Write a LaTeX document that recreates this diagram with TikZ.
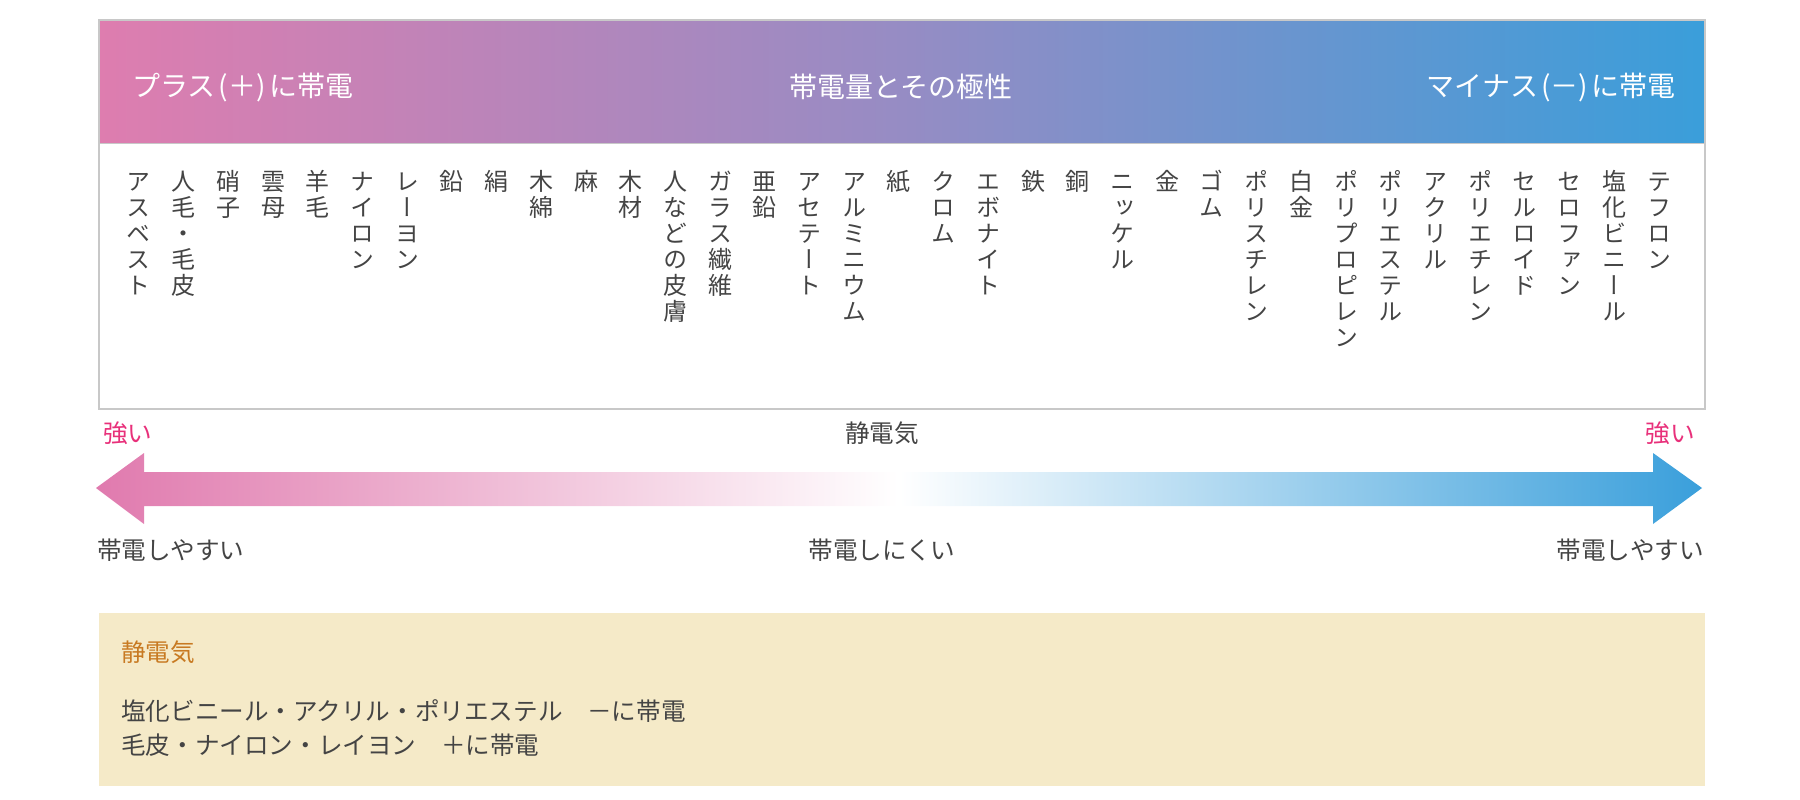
\documentclass[tikz,border=0pt]{standalone}
\usepackage{fontspec}
\setmainfont{Noto Sans CJK JP}
\newfontfamily\vjp[RawFeature=+vert]{Noto Sans CJK JP}
\definecolor{hleft}{HTML}{DE7DAF}
\definecolor{hmid}{HTML}{968CC4}
\definecolor{hright}{HTML}{3A9EDA}
\definecolor{apink}{HTML}{E07AAE}
\definecolor{ablue}{HTML}{3A9FDB}
\definecolor{strong}{HTML}{E8307A}
\definecolor{txt}{HTML}{444444}
\definecolor{note}{HTML}{C87A22}
\definecolor{notebg}{HTML}{F5EAC8}
\definecolor{frame}{HTML}{C8C8C8}
\newcommand\vcol[1]{\vtop{\offinterlineskip\expandafter\vcolloop#1\relax}}
\def\vcolloop#1{\ifx\relax#1\else\hbox to 26pt{\hss\vrule height 21.5pt depth 4.5pt width 0pt\relax#1\hss}\expandafter\vcolloop\fi}
\tikzset{
  head/.style={inner sep=0pt, text=white, font=\fontsize{28}{30}\selectfont},
  colnode/.style={inner sep=0pt, anchor=north, text=txt, font=\vjp\fontsize{24}{26}\selectfont},
  lbl/.style={inner sep=0pt, text=txt, font=\fontsize{24.6}{28}\selectfont},
  strongl/.style={inner sep=0pt, text=strong, font=\fontsize{24.6}{28}\selectfont},
}
\begin{document}
\begin{tikzpicture}[x=1pt,y=-1pt]
\useasboundingbox (0,0) rectangle (1800,800);
% top panel
\shade[left color=hleft, right color=hright, middle color=hmid] (99,20) rectangle (1705,143.5);
\draw[frame, line width=1.2pt] (99,20) rectangle (1705,409);
\draw[frame, line width=1pt] (99,143.5) -- (1705,143.5);
\node[head, anchor=west] (hplus) at (132,87) {プラス\hspace{.12em}(＋)\hspace{.12em}に帯電};
\node[head] (htitle) at (901,87) {帯電量とその極性};
\node[head, anchor=east] (hminus) at (1676,87) {マイナス\hspace{.12em}(－)\hspace{.12em}に帯電};
% columns
\foreach \t [count=\i] in {アスベスト,人毛・毛皮,硝子,雲母,羊毛,ナイロン,レーヨン,鉛,絹,木綿,麻,木材,人などの皮膚,ガラス繊維,亜鉛,アセテート,アルミニウム,紙,クロム,エボナイト,鉄,銅,ニッケル,金,ゴム,ポリスチレン,白金,ポリプロピレン,ポリエステル,アクリル,ポリエチレン,セルロイド,セロファン,塩化ビニール,テフロン}
  \node[colnode] (c\i) at ({138.9+(\i-1)*44.71},168.5) {\vcol{\t}};
% arrow
\shade[left color=apink, right color=ablue, middle color=white]
  (96,488) -- (144,453) -- (144,472) -- (1653,472) -- (1653,453) -- (1702,488)
  -- (1653,524) -- (1653,506) -- (144,506) -- (144,524) -- cycle;
\node[strongl, anchor=west] (sl) at (103,433) {強い};
\node[strongl, anchor=east] (sr) at (1695,433) {強い};
\node[lbl] (sdk) at (882,433) {静電気};
\node[lbl, anchor=west] (el) at (97,550) {帯電しやすい};
\node[lbl] (hard) at (882,550) {帯電しにくい};
\node[lbl, anchor=east] (er) at (1704,550) {帯電しやすい};
% note box
\fill[notebg] (99,613) rectangle (1705,786);
\node[inner sep=0pt, anchor=west, text=note, font=\fontsize{24.6}{28}\selectfont] (nt) at (121,652) {静電気};
\node[lbl, anchor=west] (n1) at (121,711) {塩化ビニール・アクリル・ポリエステル　－に帯電};
\node[lbl, anchor=west] (n2) at (121,745) {毛皮・ナイロン・レイヨン　＋に帯電};
\end{tikzpicture}
\end{document}
